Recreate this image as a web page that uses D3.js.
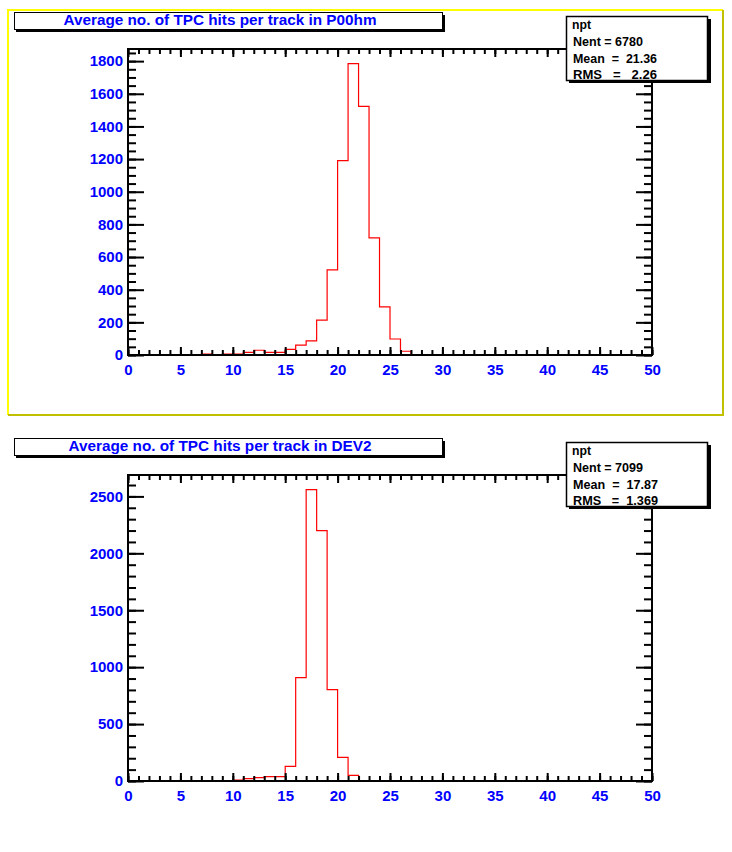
<!DOCTYPE html>
<html>
<head>
<meta charset="utf-8">
<script src="https://cdn.jsdelivr.net/npm/d3@7"></script>
<style>
  body { margin: 0; background: white; }
  text { font-family: "Liberation Sans", Arial, sans-serif; }
</style>
</head>
<body>
<div id="chart"></div>
<script>
// Histogram data: lower edge of each unit-wide bin and its entries
const binsP00hm   = [7, 8, 9, 10, 11, 12, 13, 14, 15, 16, 17, 18, 19, 20, 21, 22, 23, 24, 25, 26];
const countsP00hm = [6, 2, 6, 6, 16, 29, 16, 16, 35, 61, 86, 213, 522, 1190, 1785, 1523, 717, 295, 98, 23];

const binsDev2   = [10, 11, 12, 13, 14, 15, 16, 17, 18, 19, 20, 21];
const countsDev2 = [9, 20, 29, 38, 38, 129, 908, 2560, 2200, 803, 208, 50];

// axis ticks
const xTicks      = [0, 5, 10, 15, 20, 25, 30, 35, 40, 45, 50];
const yTicksP00hm = [0, 200, 400, 600, 800, 1000, 1200, 1400, 1600, 1800];
const yTicksDev2  = [0, 500, 1000, 1500, 2000, 2500];

// titles and stat boxes
const titleP00hm = "Average no. of TPC hits per track in P00hm";
const titleDev2  = "Average no. of TPC hits per track in DEV2";
const statsP00hm = ["npt", "Nent = 6780", "Mean  =  21.36", "RMS   =   2.26"];
const statsDev2  = ["npt", "Nent = 7099", "Mean  =  17.87", "RMS   =  1.369"];

let width = 732, height = 852;

let svg = d3.select('#chart')
    .append('svg')
    .attr('width', width)
    .attr('height', height)
    .style('background', 'white');

// yellow pad border around the first panel
svg.append('path')
    .attr('d', 'M8,415 L8,10 L723,10')
    .attr('fill', 'none')
    .attr('stroke', '#ffff00')
    .attr('stroke-width', 2);
svg.append('path')
    .attr('d', 'M8,415 L723,415 L723,10')
    .attr('fill', 'none')
    .attr('stroke', '#c0c000')
    .attr('stroke-width', 2);

function drawPanel(offsetY, bins, counts, yTicks, yMinorStep, title, titleLen, stats, statLens) {
    let g = svg.append('g').attr('transform', `translate(0,${offsetY})`);

    let frame = { left: 128, right: 652, top: 49, bottom: 355 };

    let x = d3.scaleLinear()
        .domain([0, 50])
        .range([frame.left, frame.right]);

    let y = d3.scaleLinear()
        .domain([0, d3.max(counts) * 1.05])
        .range([frame.bottom, frame.top]);

    // histogram outline (drawn first so the frame sits on top)
    let pts = [[bins[0], 0]];
    bins.forEach((b, i) => {
        pts.push([b, counts[i]]);
        pts.push([b + 1, counts[i]]);
    });
    pts.push([bins[bins.length - 1] + 1, 0]);

    const line = d3.line()
        .x(d => x(d[0]))
        .y(d => y(d[1]));

    g.append('path')
        .datum(pts)
        .attr('d', line)
        .attr('fill', 'none')
        .attr('stroke', 'red')
        .attr('stroke-width', 1.2);

    const xMinor = d3.range(0, 51, 1);
    const yMinor = d3.range(0, y.domain()[1], yMinorStep);

    // minor + major ticks on all four sides
    const addAxis = (axis, tx, ty) => {
        let a = g.append('g')
            .attr('transform', `translate(${tx},${ty})`)
            .call(axis);
        a.select('.domain').remove();
        a.selectAll('line').attr('stroke', 'black').attr('stroke-width', 2);
        return a;
    };

    addAxis(d3.axisBottom(x).tickValues(xMinor).tickSize(-5).tickFormat(''), 0, frame.bottom);
    addAxis(d3.axisTop(x).tickValues(xMinor).tickSize(-5).tickFormat(''), 0, frame.top);
    addAxis(d3.axisLeft(y).tickValues(yMinor).tickSize(-8).tickFormat(''), frame.left, 0);
    addAxis(d3.axisRight(y).tickValues(yMinor).tickSize(-8).tickFormat(''), frame.right, 0);

    let xaxis = addAxis(d3.axisBottom(x).tickValues(xTicks).tickSize(-8).tickPadding(9).tickFormat(d3.format('d')), 0, frame.bottom);
    addAxis(d3.axisTop(x).tickValues(xTicks).tickSize(-8).tickFormat(''), 0, frame.top);
    let yaxis = addAxis(d3.axisLeft(y).tickValues(yTicks).tickSize(-16).tickPadding(5).tickFormat(d3.format('d')), frame.left, 0);
    addAxis(d3.axisRight(y).tickValues(yTicks).tickSize(-16).tickFormat(''), frame.right, 0);

    [xaxis, yaxis].forEach(a => {
        a.selectAll('text')
            .attr('fill', 'blue')
            .style('font-size', '15px')
            .style('font-weight', 'bold')
            .style('font-family', '"Liberation Sans", Arial, sans-serif');
    });

    // frame
    g.append('rect')
        .attr('x', frame.left)
        .attr('y', frame.top)
        .attr('width', frame.right - frame.left)
        .attr('height', frame.bottom - frame.top)
        .attr('fill', 'none')
        .attr('stroke', 'black')
        .attr('stroke-width', 2);

    // title box with shadow
    g.append('rect')
        .attr('x', 16).attr('y', 15)
        .attr('width', 429).attr('height', 17)
        .attr('fill', 'black');
    g.append('rect')
        .attr('x', 14.5).attr('y', 12.5)
        .attr('width', 428).attr('height', 17)
        .attr('fill', 'white')
        .attr('stroke', 'black')
        .attr('stroke-width', 1);
    g.append('text')
        .text(title)
        .attr('x', 220)
        .attr('y', 25)
        .attr('text-anchor', 'middle')
        .attr('textLength', titleLen)
        .attr('lengthAdjust', 'spacingAndGlyphs')
        .attr('fill', 'blue')
        .style('font-size', '14px')
        .style('font-weight', 'bold');

    // stats box with shadow
    g.append('rect')
        .attr('x', 569).attr('y', 19)
        .attr('width', 142).attr('height', 64)
        .attr('fill', 'black');
    g.append('rect')
        .attr('x', 566.5).attr('y', 16.5)
        .attr('width', 141).attr('height', 64)
        .attr('fill', 'white')
        .attr('stroke', 'black')
        .attr('stroke-width', 1.5);

    const statY = [29, 46, 63, 79];
    stats.forEach((s, i) => {
        g.append('text')
            .text(s)
            .attr('x', i === 0 ? 572 : 573)
            .attr('y', statY[i])
            .attr('textLength', statLens[i])
            .attr('lengthAdjust', 'spacingAndGlyphs')
            .attr('fill', 'black')
            .style('white-space', 'pre')
            .style('font-size', '12px')
            .style('font-weight', 'bold');
    });
}

drawPanel(0, binsP00hm, countsP00hm, yTicksP00hm, 50, titleP00hm, 313, statsP00hm, [19, 70, 84, 84]);
drawPanel(426, binsDev2, countsDev2, yTicksDev2, 100, titleDev2, 303, statsDev2, [19, 70, 85, 85]);
</script>
</body>
</html>
